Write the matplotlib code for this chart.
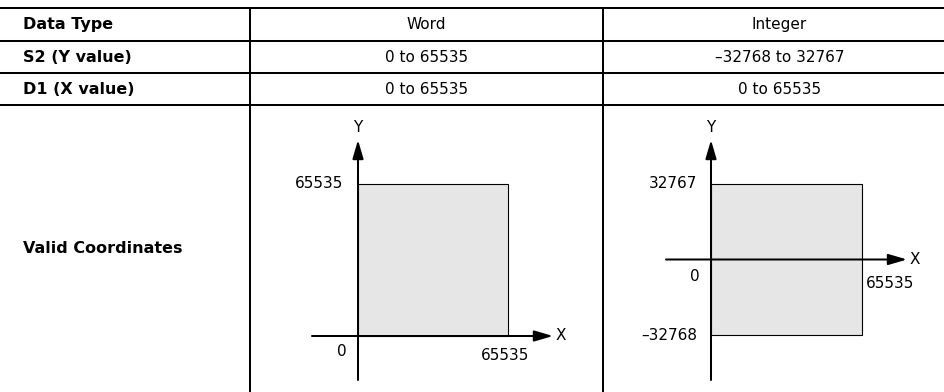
import matplotlib
matplotlib.use("Agg")
import matplotlib.pyplot as plt
from matplotlib.patches import Rectangle


W, H = 944, 392

# table contents
header = ["Data Type", "Word", "Integer"]
row_labels = ["S2 (Y value)", "D1 (X value)", "Valid Coordinates"]
word_ranges = ["0 to 65535", "0 to 65535"]
int_ranges = ["\u201332768 to 32767", "0 to 65535"]

# coordinate ranges shown in the diagrams
word_x = (0, 65535)
word_y = (0, 65535)
int_x = (0, 65535)
int_y = (-32768, 32767)

# layout (pixels)
col_x = [0, 250, 603, W]
row_y = [8, 41, 73, 105, H]
FS = 11
FSB = 11.5
LW = 1.45
LEFT = 23


def px(v):
    return v / 100.0


def diagram(fig, xr, yr, box, pad):
    # box = rect pixel box (left, top, right, bottom); pad = (l, t, r, b) to axis ends
    l, t, r, b = box
    pl, pt, pr, pb = pad
    sx = (xr[1] - xr[0]) / (r - l)
    sy = (yr[1] - yr[0]) / (b - t)
    x0, x1 = xr[0] - pl * sx, xr[1] + pr * sx
    y0, y1 = yr[0] - pb * sy, yr[1] + pt * sy
    ax = fig.add_axes([(l - pl) / W, (H - b - pb) / H,
                       (r - l + pl + pr) / W, (b - t + pt + pb) / H])
    ax.set_xlim(x0, x1)
    ax.set_ylim(y0, y1)
    ax.axis("off")
    ax.add_patch(Rectangle((xr[0], yr[0]), xr[1] - xr[0], yr[1] - yr[0],
                           facecolor="#e6e6e6", edgecolor="black", lw=0.8))
    arrow = dict(arrowstyle="-|>,head_length=0.75,head_width=0.22",
                 lw=LW, color="black", mutation_scale=15, shrinkA=0, shrinkB=0)
    ax.annotate("", xy=(x1, 0), xytext=(x0, 0), arrowprops=arrow,
                annotation_clip=False)
    ax.annotate("", xy=(0, y1), xytext=(0, y0), arrowprops=arrow,
                annotation_clip=False)
    ax.annotate("Y", xy=(0, y1), xytext=(0, 13), textcoords="offset pixels",
                ha="center", va="center", fontsize=FS, annotation_clip=False)
    ax.annotate("X", xy=(x1, 0), xytext=(3, 0), textcoords="offset pixels",
                ha="left", va="center", fontsize=FS, annotation_clip=False)
    return ax


fig = plt.figure(figsize=(px(W), px(H)), dpi=100)
ax = fig.add_axes([0, 0, 1, 1])
ax.set_xlim(0, W)
ax.set_ylim(H, 0)
ax.axis("off")

for y in row_y[:-1]:
    ax.plot([0, W], [y, y], color="black", lw=LW, solid_capstyle="butt")
for x in col_x[1:-1]:
    ax.plot([x, x], [row_y[0], H], color="black", lw=LW, solid_capstyle="butt")

cy = [(row_y[i] + row_y[i + 1]) / 2 for i in range(len(row_y) - 1)]
cx2 = (col_x[1] + col_x[2]) / 2
cx3 = (col_x[2] + col_x[3]) / 2 + 6

ax.text(LEFT, cy[0], header[0], fontsize=FSB, fontweight="bold", va="center")
ax.text(cx2, cy[0], header[1], fontsize=FS, ha="center", va="center")
ax.text(cx3, cy[0], header[2], fontsize=FS, ha="center", va="center")
for i, lab in enumerate(row_labels):
    ax.text(LEFT, cy[i + 1], lab, fontsize=FSB, fontweight="bold", va="center")
for i in range(2):
    ax.text(cx2, cy[i + 1], word_ranges[i], fontsize=FS, ha="center", va="center")
    ax.text(cx3, cy[i + 1], int_ranges[i], fontsize=FS, ha="center", va="center")

# Word diagram
d1 = diagram(fig, word_x, word_y, (358, 184, 508, 336), (46, 44, 45, 44))
d1.annotate(str(word_y[1]), xy=(0, word_y[1]), xytext=(-15, 0),
            textcoords="offset pixels", ha="right", va="center", fontsize=FS)
d1.annotate("0", xy=(0, 0), xytext=(-11, -16), textcoords="offset pixels",
            ha="right", va="center", fontsize=FS)
d1.annotate(str(word_x[1]), xy=(word_x[1], 0), xytext=(-3, -19),
            textcoords="offset pixels", ha="center", va="center", fontsize=FS)

# Integer diagram
d2 = diagram(fig, int_x, int_y, (711, 184, 862, 335), (45, 44, 45, 45))
d2.annotate(str(int_y[1]), xy=(0, int_y[1]), xytext=(-14, 0),
            textcoords="offset pixels", ha="right", va="center", fontsize=FS)
d2.annotate("\u2013" + str(-int_y[0]), xy=(0, int_y[0]), xytext=(-14, -1),
            textcoords="offset pixels", ha="right", va="center", fontsize=FS)
d2.annotate("0", xy=(0, 0), xytext=(-11, -17), textcoords="offset pixels",
            ha="right", va="center", fontsize=FS)
d2.annotate(str(int_x[1]), xy=(int_x[1], 0), xytext=(4, -24),
            textcoords="offset pixels", ha="left", va="center", fontsize=FS)

fig.savefig("out.png", dpi=100)
